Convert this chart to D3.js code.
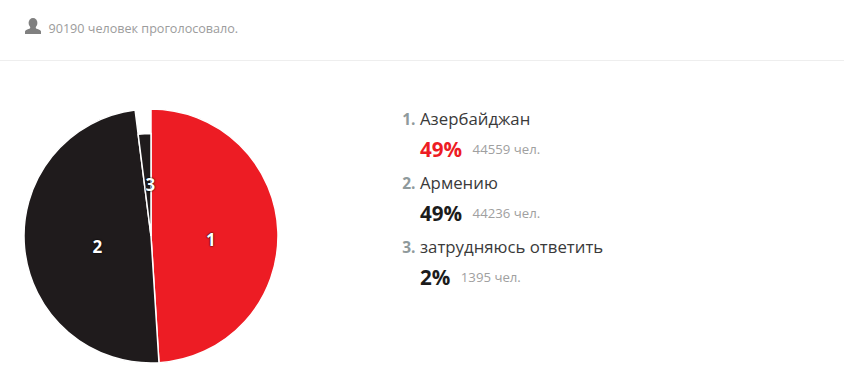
<!DOCTYPE html>
<html><head><meta charset="utf-8">
<script src="https://cdnjs.cloudflare.com/ajax/libs/d3/7.8.5/d3.min.js"></script>
<style>html,body{margin:0;padding:0;background:#fff}svg{display:block}
text{font-family:"Open Sans","Noto Sans",sans-serif}</style></head><body>
<svg id="c" width="844" height="389"></svg>
<script>
const totalVotes = "90190 человек проголосовало.";
const categories = ["Азербайджан","Армению","затрудняюсь ответить"];
const percents = [49,49,2];
const votes = [44559,44236,1395];
const colors = ["#ed1c24","#1f1b1c","#1f1b1c"];
const pctColors = ["#ed1c24","#1c1c1c","#1c1c1c"];
const radii = [127,127,102.5];

const svg = d3.select("#c");

// header
svg.append("ellipse").attr("cx",33).attr("cy",23).attr("rx",4.4).attr("ry",5).attr("fill","#808080");
svg.append("path").attr("d","M25 34 L25 31.5 Q25 30 30 28.5 L30.5 26 H35.5 L36 28.5 Q41 30 41 31.5 V34 Z").attr("fill","#808080");
svg.append("text").attr("x",48.5).attr("y",33).attr("font-size",12.6).attr("fill","#9c9c9c").text(totalVotes);
svg.append("line").attr("x1",0).attr("x2",844).attr("y1",60.5).attr("y2",60.5).attr("stroke","#eeeeee");

// pie
const g = svg.append("g").attr("transform","translate(151,236)");
const pie = d3.pie().sort(null).value(d=>d);
const arcs = pie(percents);
const arc = d3.arc().innerRadius(0).outerRadius(d=>radii[d.index]);
g.selectAll("path.s").data(arcs).join("path").attr("class","s")
 .attr("d",arc).attr("fill",(d,i)=>colors[i]).attr("stroke","#fff").attr("stroke-width",1.5);
const labelArc = d3.arc().innerRadius(57).outerRadius(57);
g.selectAll("text.l").data(arcs).join("text").attr("class","l")
 .attr("transform",d=>{const c=labelArc.centroid(d);return `translate(${c[0]+3},${c[1]+12})`;})
 .attr("text-anchor","middle").attr("font-size",17).attr("font-weight",700).attr("fill","#fff")
 .style("text-shadow","0 0 2px rgba(0,0,0,.9), 0 0 1px rgba(0,0,0,.9)")
 .text(d=>d.index+1);

// legend
const rowY = d3.scalePoint().domain(d3.range(categories.length)).range([125,253]);
const L = svg.append("g");
categories.forEach((c,i)=>{
  const y = rowY(i);
  L.append("text").attr("x",415.5).attr("y",y).attr("text-anchor","end").attr("font-size",15.5).attr("font-weight",700).attr("fill","#8f9a9c").text((i+1)+".");
  L.append("text").attr("x",420).attr("y",y).attr("font-size",16.8).attr("fill","#3a3a3a").text(c);
  const p = L.append("text").attr("x",420).attr("y",y+32).attr("font-size",20.6).attr("font-weight",700).attr("fill",pctColors[i]).text(percents[i]+"%");
  const w = p.node().getComputedTextLength();
  L.append("text").attr("x",420+w+10.5).attr("y",y+29).attr("font-size",13.2).attr("fill","#a0a0a0").text(votes[i]+" чел.");
});
</script></body></html>
